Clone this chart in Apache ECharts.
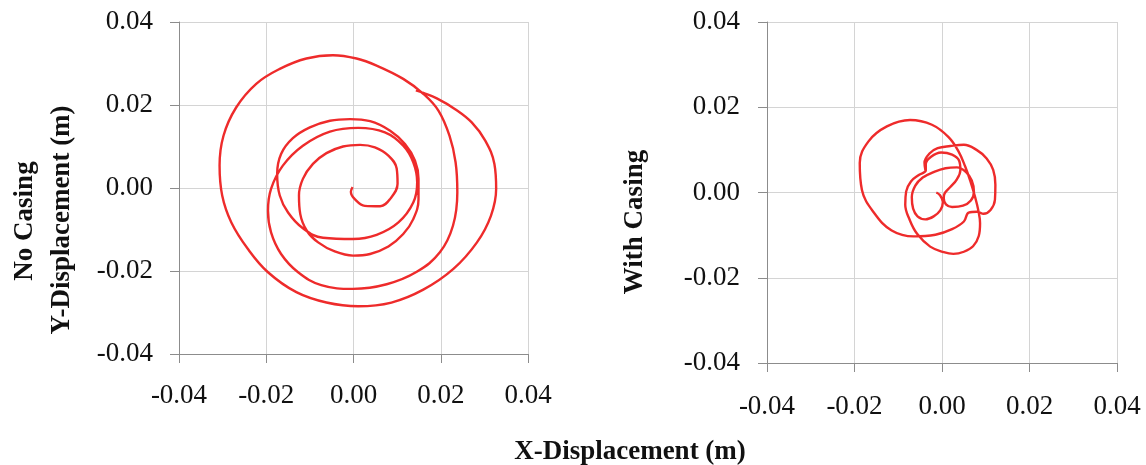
<!DOCTYPE html>
<html>
<head>
<meta charset="utf-8">
<script src="https://cdn.jsdelivr.net/npm/echarts@6/dist/echarts.min.js"></script>
<style>
html,body{margin:0;padding:0;background:#fff;}
#chart{width:1146px;height:465px;}
</style>
</head>
<body>
<div id="chart"></div>
<script>
// Tick values (m)
const tickValues = [-0.04, -0.02, 0.00, 0.02, 0.04];

// No Casing orbit: X and Y displacement (mm)
const noCasingX = [-0.2,-0.6,0.3,2.6,6.1,8.5,10.1,9.9,8.0,4.9,1.5,-2.4,-6.2,-9.3,-11.6,-12.5,-12.2,-10.7,-8.1,-4.3,-0.1,3.8,8.0,11.4,13.7,14.9,14.9,14.1,11.8,8.4,3.8,-0.8,-5.4,-10.0,-13.9,-16.6,-17.5,-16.9,-15.0,-11.6,-7.0,-0.1,5.3,10.3,13.7,14.6,13.7,11.4,7.2,1.1,-5.4,-11.6,-16.2,-18.9,-19.6,-18.9,-16.6,-12.7,-7.4,-0.1,7.6,14.5,19.8,22.8,23.8,23.4,22.0,19.5,16.0,11.4,5.3,0.7,-4.7,-10.8,-16.9,-22.3,-26.9,-29.8,-30.7,-30.1,-28.0,-24.2,-19.6,-13.1,-6.2,1.1,8.7,16.0,22.9,28.3,31.5,32.7,32.3,30.2,27.1,23.3,19.1,16.0,14.3];
const noCasingY = [0.2,-0.9,-2.7,-4.3,-4.4,-2.5,1.0,4.7,7.8,9.8,10.4,10.0,8.4,5.8,2.2,-1.8,-6.3,-10.3,-13.1,-15.3,-16.3,-15.9,-14.1,-11.1,-7.5,-2.7,2.2,6.6,10.6,13.8,16.1,16.6,16.2,14.6,12.0,8.2,3.4,-1.8,-5.9,-9.7,-12.0,-12.3,-11.3,-8.3,-3.5,1.4,6.2,10.2,13.4,14.5,13.6,10.2,5.4,-0.2,-5.5,-10.7,-15.9,-20.3,-23.4,-24.3,-23.2,-20.2,-15.5,-9.1,-1.0,6.2,12.6,18.6,22.7,26.3,29.5,31.2,32.0,31.2,28.7,25.1,19.4,12.6,5.4,-1.8,-8.3,-14.7,-20.3,-25.1,-27.6,-28.5,-27.6,-24.5,-19.5,-13.1,-6.7,-0.2,5.8,11.4,15.8,19.0,21.6,22.9,23.5];

// With Casing orbit: X and Y displacement (mm)
const withCasingX = [-1.3,-0.5,0.2,-0.4,-1.9,-3.8,-5.6,-6.6,-6.9,-6.1,-4.4,-1.9,0.8,3.4,5.5,6.8,7.3,6.6,4.8,2.3,0.9,0.4,0.6,1.9,3.4,4.2,3.9,2.3,-0.2,-2.5,-3.7,-3.7,-5.3,-7.1,-8.2,-8.4,-7.4,-5.7,-2.7,0.4,2.6,5.0,7.1,8.4,8.7,8.3,7.6,6.5,5.3,3.8,1.5,-2.3,-7.3,-12.6,-16.8,-18.8,-18.3,-15.5,-11.5,-6.5,-1.5,2.3,5.0,6.1,8.0,9.5,11.1,12.1,12.2,11.7,10.2,7.9,5.0,1.9,-1.0,-2.8,-4.0,-3.8];
const withCasingY = [0.0,-0.6,-2.2,-4.2,-5.6,-6.3,-5.6,-3.8,-1.1,1.6,3.5,4.8,5.7,5.9,4.8,2.8,0.2,-1.9,-3.1,-3.4,-2.8,-1.3,-0.2,1.3,3.1,5.3,7.5,8.9,9.4,8.4,6.7,5.2,4.1,2.6,0.2,-2.9,-6.4,-9.7,-12.7,-14.0,-14.4,-13.9,-12.6,-10.2,-7.2,-4.2,-1.2,2.6,6.1,9.6,13.0,15.9,17.0,15.5,12.0,6.9,0.6,-4.8,-8.9,-10.3,-9.9,-8.6,-6.8,-4.7,-4.5,-5.0,-4.1,-1.7,1.8,5.3,8.0,10.0,11.2,10.9,10.4,9.2,7.0,5.3];

const toPairs = (xs, ys) => xs.map((x, i) => [x / 1000, ys[i] / 1000]);

const FONT = 'Liberation Serif';
const AXIS_COLOR = '#8c8c8c';
const GRID_COLOR = '#d4d4d4';
const LINE_COLOR = '#ee2b2b';

function valueAxis(gridIndex, labelMargin) {
  return {
    type: 'value', gridIndex: gridIndex,
    min: tickValues[0], max: tickValues[tickValues.length - 1], interval: 0.02,
    axisLine: {show: true, onZero: false, lineStyle: {color: AXIS_COLOR, width: 1}},
    axisTick: {show: true, inside: false, length: 9, lineStyle: {color: AXIS_COLOR}},
    splitLine: {show: true, lineStyle: {color: GRID_COLOR, width: 1}},
    axisLabel: {
      margin: labelMargin, fontFamily: FONT, fontSize: 27, color: '#111',
      formatter: v => v.toFixed(2)
    }
  };
}

const chart = echarts.init(document.getElementById('chart'), null, {renderer: 'canvas'});
chart.setOption({
  animation: false,
  backgroundColor: '#fff',
  grid: [
    {left: 179, top: 22, width: 349, height: 332},
    {left: 767, top: 22, width: 350, height: 341}
  ],
  xAxis: [valueAxis(0, 28), valueAxis(1, 30)],
  yAxis: [valueAxis(0, 26), valueAxis(1, 27)],
  series: [
    {
      type: 'line', xAxisIndex: 0, yAxisIndex: 0,
      data: toPairs(noCasingX, noCasingY),
      showSymbol: false, smooth: 0.4,
      lineStyle: {color: LINE_COLOR, width: 2.4}
    },
    {
      type: 'line', xAxisIndex: 1, yAxisIndex: 1,
      data: toPairs(withCasingX, withCasingY),
      showSymbol: false, smooth: 0.4,
      lineStyle: {color: LINE_COLOR, width: 2.4}
    }
  ],
  graphic: [
    {
      type: 'text', x: 25, y: 221, rotation: Math.PI / 2,
      style: {text: 'No Casing', fontFamily: FONT, fontWeight: 'bold', fontSize: 27,
              fill: '#111', align: 'center', verticalAlign: 'middle'}
    },
    {
      type: 'text', x: 62, y: 220, rotation: Math.PI / 2,
      style: {text: 'Y-Displacement (m)', fontFamily: FONT, fontWeight: 'bold', fontSize: 27,
              fill: '#111', align: 'center', verticalAlign: 'middle'}
    },
    {
      type: 'text', x: 635, y: 222, rotation: Math.PI / 2,
      style: {text: 'With Casing', fontFamily: FONT, fontWeight: 'bold', fontSize: 27,
              fill: '#111', align: 'center', verticalAlign: 'middle'}
    },
    {
      type: 'text', x: 630, y: 452,
      style: {text: 'X-Displacement (m)', fontFamily: FONT, fontWeight: 'bold', fontSize: 27,
              fill: '#111', align: 'center', verticalAlign: 'middle'}
    }
  ]
});
</script>
</body>
</html>
